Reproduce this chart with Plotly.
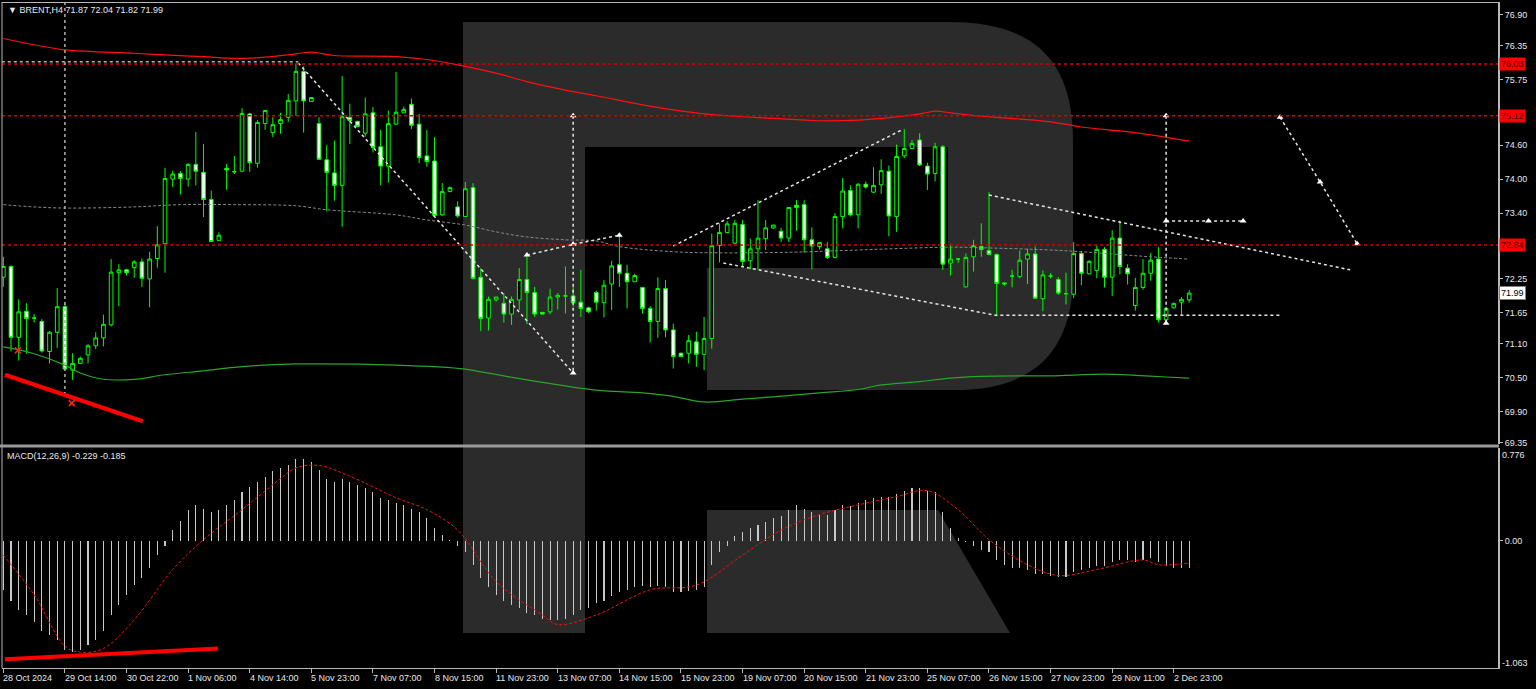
import plotly.graph_objects as go

# ---------------- DATA ----------------
opens = [72.27,72.46,71.21,71.67,71.55,71.49,70.96,71.30,71.75,70.63,70.75,70.90,71.06,71.20,71.43,72.35,72.40,72.44,72.54,72.24,
         72.60,72.86,74.00,74.10,74.00,74.26,74.12,73.64,72.92,74.19,74.13,74.14,75.15,74.28,74.98,74.82,74.98,75.09,75.38,75.90,
         75.37,74.98,74.34,74.11,73.89,75.09,75.02,74.81,75.17,74.57,74.23,74.97,75.17,75.32,74.97,74.41,74.32,73.37,73.78,73.51,
         73.34,73.85,72.27,71.55,71.87,71.81,71.62,71.87,72.23,72.00,71.65,71.66,71.92,71.94,71.94,71.83,71.73,72.00,71.82,72.15,
         72.49,72.34,72.19,72.09,71.72,71.49,72.07,71.34,70.93,70.93,71.13,70.91,71.19,72.83,73.06,72.87,73.20,72.56,72.77,72.95,
         73.14,73.08,72.96,73.54,73.55,72.93,72.81,72.77,72.62,73.34,73.80,73.37,73.91,73.77,73.90,74.14,73.34,74.41,74.54,74.69,
         74.23,74.10,74.57,72.52,72.59,72.10,72.63,72.81,72.74,72.67,72.17,72.29,72.28,72.59,72.68,71.89,72.29,72.23,71.98,71.97,
         72.69,72.33,72.39,72.76,72.27,72.96,72.43,71.77,72.09,72.34,72.59,71.52,71.73,71.83,71.87]
highs = [72.63,72.48,71.88,71.81,71.62,71.53,71.32,72.08,71.81,70.93,70.87,71.09,71.30,71.61,72.59,72.50,72.42,72.57,72.60,72.72,
         73.17,74.20,74.15,74.14,74.28,74.83,74.62,73.80,73.06,74.27,74.41,75.25,75.17,75.04,75.22,75.09,75.17,75.50,76.04,75.99,
         75.44,75.09,74.60,74.68,75.82,75.33,75.02,75.44,75.27,74.87,75.21,75.89,75.28,75.42,75.15,74.87,74.74,73.93,73.87,73.61,
         73.95,73.93,72.43,71.93,71.92,71.99,71.93,72.43,72.64,72.10,71.65,72.07,71.99,72.46,72.10,72.40,71.75,72.03,72.22,72.56,
         73.04,72.49,72.33,72.10,71.76,72.27,72.22,71.45,70.94,71.25,71.31,71.57,73.04,73.22,73.26,73.28,73.28,72.95,73.63,73.28,
         73.19,73.14,73.51,73.63,73.63,73.15,72.89,72.89,73.40,74.02,73.89,73.93,73.96,74.21,74.35,74.24,74.61,74.88,74.69,74.81,
         74.29,74.64,74.60,72.86,72.61,72.69,72.93,73.22,73.77,72.69,72.17,72.40,72.74,72.77,72.81,72.39,72.34,72.27,72.35,72.89,
         72.73,72.57,72.83,72.80,73.10,73.27,72.50,72.26,72.59,72.70,72.80,71.75,71.82,71.92,72.04]
lows = [72.10,70.96,70.80,70.92,71.47,70.94,70.75,71.02,70.63,70.46,70.74,70.75,71.00,71.05,71.40,71.76,72.30,72.26,72.10,71.74,
        72.44,72.35,73.86,73.73,73.87,73.89,73.33,72.89,72.91,73.81,74.09,74.13,74.13,74.20,74.87,74.74,74.80,75.01,75.12,74.82,
        75.37,74.34,73.43,73.62,73.16,74.62,74.93,74.75,74.47,73.89,73.94,74.96,75.17,74.88,74.28,74.22,73.35,73.35,73.77,73.32,
        73.34,72.23,71.32,71.33,71.84,71.47,71.43,71.69,71.44,71.57,71.61,71.62,71.70,71.63,71.75,71.57,71.64,71.68,71.56,71.69,
        72.10,71.72,72.19,71.63,71.12,71.20,71.21,70.66,70.86,70.75,70.69,70.63,71.01,72.53,73.04,72.86,72.46,72.41,72.41,72.75,
        73.12,72.89,72.89,73.09,72.70,72.41,72.76,72.59,72.60,73.13,73.34,73.13,73.83,73.75,73.74,72.99,73.07,74.37,74.54,74.23,
        73.81,73.96,72.40,72.30,72.52,72.09,72.37,72.63,72.66,71.60,72.12,72.09,72.25,72.15,71.89,71.67,72.25,71.96,71.79,71.90,
        72.13,72.32,72.25,72.09,71.94,72.32,72.14,71.68,72.05,72.21,71.47,71.49,71.72,71.59,71.82]
closes = [72.46,71.21,71.66,71.54,71.55,70.97,71.30,71.75,70.65,70.75,70.84,71.06,71.20,71.44,72.36,72.40,72.35,72.54,72.25,72.59,
          72.84,74.01,74.09,74.01,74.26,74.14,73.64,72.90,73.01,74.16,74.13,75.16,74.29,75.00,75.21,74.96,75.05,75.39,75.90,75.38,
          75.44,74.35,74.12,73.89,75.10,75.03,74.93,75.15,74.56,74.23,74.98,75.18,75.23,74.95,74.38,74.31,73.36,73.78,73.85,73.35,
          73.83,72.25,71.54,71.88,71.92,71.62,71.88,72.23,72.00,71.62,71.62,71.92,71.95,71.94,71.82,71.72,71.66,71.83,72.13,72.47,
          72.34,72.19,72.30,71.72,71.49,72.07,71.34,70.87,70.87,71.15,70.91,71.19,72.83,73.06,73.21,73.22,72.55,72.77,72.96,73.14,
          73.19,72.96,73.50,73.50,72.93,72.82,72.88,72.62,73.34,73.79,73.37,73.91,73.86,73.89,74.15,73.35,74.40,74.54,74.63,74.25,
          74.09,74.57,72.50,72.59,72.59,72.62,72.83,72.76,72.67,72.16,72.15,72.29,72.57,72.68,71.90,72.31,72.29,71.99,71.98,72.69,
          72.34,72.55,72.76,72.27,72.96,72.46,72.33,72.09,72.34,72.57,71.52,71.72,71.81,71.88,71.99]
bars = list(range(len(closes)))

macd_hist = [-0.41,-0.50,-0.58,-0.62,-0.68,-0.75,-0.79,-0.83,-0.91,-0.93,-0.91,-0.87,-0.83,-0.75,-0.62,-0.54,-0.45,-0.37,-0.31,-0.23,
             -0.12,-0.04,0.09,0.17,0.26,0.30,0.27,0.24,0.26,0.30,0.34,0.41,0.45,0.49,0.53,0.58,0.61,0.63,0.68,0.68,
             0.66,0.59,0.52,0.49,0.52,0.49,0.47,0.44,0.41,0.36,0.34,0.32,0.30,0.27,0.24,0.19,0.11,0.05,0.01,-0.04,
             -0.09,-0.20,-0.31,-0.39,-0.45,-0.50,-0.54,-0.56,-0.60,-0.62,-0.65,-0.66,-0.66,-0.65,-0.62,-0.58,-0.56,-0.52,-0.50,-0.46,
             -0.43,-0.41,-0.39,-0.38,-0.39,-0.38,-0.39,-0.43,-0.43,-0.42,-0.41,-0.39,-0.20,-0.09,-0.04,0.04,0.07,0.11,0.13,0.16,
             0.19,0.21,0.26,0.30,0.27,0.24,0.22,0.22,0.26,0.30,0.29,0.32,0.34,0.36,0.37,0.37,0.39,0.42,0.44,0.44,
             0.42,0.41,0.24,0.11,0.02,-0.01,-0.04,-0.08,-0.09,-0.16,-0.20,-0.23,-0.23,-0.24,-0.28,-0.28,-0.29,-0.30,-0.30,-0.26,
             -0.24,-0.23,-0.21,-0.21,-0.18,-0.16,-0.16,-0.18,-0.16,-0.14,-0.18,-0.21,-0.23,-0.23,-0.229]
signal_idx = [0,4,8,10,13,17,22,26,31,36,38,41,45,51,55,59,64,70,72,77,84,90,96,101,106,111,116,120,124,128,133,137,142,148,150,154]
signal_val = [-0.12,-0.45,-0.88,-0.93,-0.90,-0.66,-0.24,0.01,0.26,0.52,0.61,0.63,0.54,0.36,0.26,0.09,-0.34,-0.62,-0.70,-0.62,
              -0.41,-0.37,-0.12,0.09,0.22,0.30,0.37,0.42,0.26,0.01,-0.20,-0.29,-0.24,-0.16,-0.20,-0.185]

ma_red_idx = [0,4,8,17,21,26,30,34,38,40,43,51,55,60,64,68,73,77,83,87,91,96,100,106,111,114,119,121,123,127,132,136,140,145,149,154]
ma_red_val = [76.48,76.37,76.28,76.22,76.19,76.16,76.13,76.15,76.21,76.24,76.18,76.16,76.11,75.99,75.87,75.72,75.57,75.47,75.31,75.22,
              75.15,75.10,75.07,75.03,75.04,75.07,75.15,75.20,75.17,75.11,75.06,75.01,74.92,74.85,74.78,74.67]
ma_mid_idx = [0,4,8,17,23,30,38,42,51,55,60,64,68,73,77,80,87,93,102,111,115,123,127,136,140,145,149,154]
ma_mid_val = [73.55,73.51,73.49,73.51,73.55,73.55,73.53,73.46,73.37,73.28,73.19,73.07,72.98,72.93,72.91,72.81,72.72,72.70,72.71,72.75,
              72.77,72.80,72.79,72.75,72.72,72.67,72.63,72.59]
ma_green_idx = [0,4,8,10,13,17,21,26,30,34,38,51,60,62,68,77,83,87,91,96,100,106,111,114,119,123,127,132,136,143,147,151,154]
ma_green_val = [71.04,70.92,70.72,70.58,70.47,70.47,70.55,70.62,70.68,70.72,70.74,70.72,70.65,70.60,70.46,70.28,70.23,70.17,70.07,70.12,
                70.16,70.23,70.29,70.37,70.43,70.49,70.52,70.53,70.53,70.56,70.54,70.51,70.49]

x_label_idx = list(range(0, 153, 8))
x_labels = ["28 Oct 2024", "29 Oct 14:00", "30 Oct 22:00", "1 Nov 06:00", "4 Nov 14:00", "5 Nov 23:00", "7 Nov 07:00",
            "8 Nov 15:00", "11 Nov 23:00", "13 Nov 07:00", "14 Nov 15:00", "15 Nov 23:00", "19 Nov 07:00", "20 Nov 15:00",
            "21 Nov 23:00", "25 Nov 07:00", "26 Nov 15:00", "27 Nov 23:00", "29 Nov 11:00", "2 Dec 23:00"]
price_ticks = [76.90, 76.35, 75.75, 74.60, 74.00, 73.40, 72.25, 71.65, 71.10, 70.50, 69.90, 69.35]
level_lines = [76.03, 75.12, 72.84]
macd_max, macd_min = 0.776, -1.063
macd_last, signal_last = -0.229, -0.185

# analyst drawings (bar index, price)
drawings = [
    ([38.3, 74.0], [76.05, 70.58]),
    ([74.0, 74.0], [75.12, 70.58]),
    ([68.0, 74.0, 80.0], [72.66, 72.85, 73.01]),
    ([87.0, 116.7], [72.82, 74.87]),
    ([93.5, 128.8, 165.8], [72.52, 71.60, 71.60]),
    ([128.0, 174.9], [73.72, 72.40]),
    ([151.0, 151.0], [75.12, 71.46]),
    ([151.0, 161.0], [73.26, 73.26]),
    ([165.8, 171.0, 175.8], [75.09, 73.95, 72.86]),
]
marker_x = [74.0, 74.0, 74.0, 68.0, 80.0, 151.0, 151.0, 151.0, 156.5, 161.0, 165.8, 171.0, 175.8]
marker_y = [75.12, 70.58, 72.85, 72.66, 73.01, 75.12, 73.26, 71.46, 73.26, 73.26, 75.09, 73.95, 72.86]
red_trend_main = ([0.2, 18.1], [70.55, 69.73])
red_trend_macd = ([0.2, 27.9], [-0.99, -0.90])
red_x_marks = ([1.9, 8.9], [70.98, 70.05])

# ---------------- LAYOUT GEOMETRY ----------------
W, H = 1536, 689
ML, MR, MT, MB = 2, 38, 2, 21
PW, PH = W - ML - MR, H - MT - MB


def px(v):
    return (v - ML) / PW


def py(v):
    return 1 - (v - MT) / PH


FONT = "Liberation Sans"
TXT = "#e8e8e8"

fig = go.Figure()

# candles
fig.add_trace(go.Candlestick(
    x=bars, open=opens, high=highs, low=lows, close=closes,
    increasing=dict(line=dict(color="#00ff00", width=1), fillcolor="#000000"),
    decreasing=dict(line=dict(color="#00ff00", width=1), fillcolor="#ffffff"),
    whiskerwidth=0, hoverinfo="skip", showlegend=False))

fig.add_trace(go.Scatter(x=ma_red_idx, y=ma_red_val, mode="lines", line=dict(color="#ff1010", width=1.2, shape="spline"),
                         hoverinfo="skip", showlegend=False))
fig.add_trace(go.Scatter(x=ma_mid_idx, y=ma_mid_val, mode="lines",
                         line=dict(color="#8a8a8a", width=1, dash="3px,2px", shape="spline"),
                         hoverinfo="skip", showlegend=False))
fig.add_trace(go.Scatter(x=ma_green_idx, y=ma_green_val, mode="lines", line=dict(color="#2aa52a", width=1.2, shape="spline"),
                         hoverinfo="skip", showlegend=False))

# analyst drawings
for dx, dy in drawings:
    fig.add_trace(go.Scatter(x=dx, y=dy, mode="lines", line=dict(color="#e6e6e6", width=1.5, dash="3px,3px"),
                             hoverinfo="skip", showlegend=False))
fig.add_trace(go.Scatter(x=marker_x, y=marker_y, mode="markers",
                         marker=dict(symbol="triangle-up", size=6, color="#ffffff"),
                         hoverinfo="skip", showlegend=False))
fig.add_trace(go.Scatter(x=red_trend_main[0], y=red_trend_main[1], mode="lines", line=dict(color="#ff0000", width=4),
                         hoverinfo="skip", showlegend=False))
fig.add_trace(go.Scatter(x=red_x_marks[0], y=red_x_marks[1], mode="markers",
                         marker=dict(symbol="x-thin", size=6, line=dict(color="#ff2020", width=1.5)),
                         hoverinfo="skip", showlegend=False))

# MACD pane
fig.add_trace(go.Bar(x=bars, y=macd_hist, width=0.14, marker=dict(color="#c8c8c8", line=dict(width=0)),
                     yaxis="y2", hoverinfo="skip", showlegend=False))
fig.add_trace(go.Scatter(x=signal_idx, y=signal_val, mode="lines", yaxis="y2",
                         line=dict(color="#f01010", width=1, dash="3px,2px", shape="spline"),
                         hoverinfo="skip", showlegend=False))
fig.add_trace(go.Scatter(x=red_trend_macd[0], y=red_trend_macd[1], mode="lines", yaxis="y2",
                         line=dict(color="#ff0000", width=4), hoverinfo="skip", showlegend=False))

shapes = []
# watermark "R"
wm = [(463, 22), (950, 22), "C", (1035, 22), (1073, 62), (1073, 140), (1073, 275), "C", (1073, 345), (1040, 390),
      (955, 390), (707, 390), (707, 268), (948, 268), (948, 147), (585, 147), (585, 633), (463, 633)]
path = ""
i = 0
first = True
while i < len(wm):
    item = wm[i]
    if item == "C":
        a, b, c = wm[i + 1], wm[i + 2], wm[i + 3]
        path += f" C {px(a[0]):.5f},{py(a[1]):.5f} {px(b[0]):.5f},{py(b[1]):.5f} {px(c[0]):.5f},{py(c[1]):.5f}"
        i += 4
        continue
    path += (" M " if first else " L ") + f"{px(item[0]):.5f},{py(item[1]):.5f}"
    first = False
    i += 1
path += " Z"
shapes.append(dict(type="path", xref="paper", yref="paper", path=path, fillcolor="#2b2b2b", line=dict(width=0),
                   layer="below"))
leg = [(707, 510), (938, 510), (1010, 633), (707, 633)]
lp = " M " + " L ".join(f"{px(a):.5f},{py(b):.5f}" for a, b in leg) + " Z"
shapes.append(dict(type="path", xref="paper", yref="paper", path=lp, fillcolor="#2b2b2b", line=dict(width=0),
                   layer="below"))

# red horizontal levels
for lv in level_lines:
    shapes.append(dict(type="line", xref="paper", yref="y", x0=0, x1=1, y0=lv, y1=lv,
                       line=dict(color="#d00000", width=1.5, dash="3px,3px")))
# grey analyst lines
shapes.append(dict(type="line", xref="x", yref="y", x0=-0.2, x1=38.3, y0=76.07, y1=76.07,
                   line=dict(color="#b0b0b0", width=1.5, dash="3px,3px")))
shapes.append(dict(type="line", xref="x", yref="paper", x0=8, x1=8, y0=py(2), y1=py(393),
                   line=dict(color="#b0b0b0", width=1.5, dash="3px,3px")))
# frame
FR = "#b8b8b8"
shapes.append(dict(type="line", xref="paper", yref="paper", x0=px(2), x1=px(1498), y0=py(2.5), y1=py(2.5),
                   line=dict(color=FR, width=1)))
shapes.append(dict(type="line", xref="paper", yref="paper", x0=px(2), x1=px(2), y0=py(2), y1=py(668),
                   line=dict(color=FR, width=1)))
shapes.append(dict(type="rect", xref="paper", yref="paper", x0=px(0), x1=px(1499), y0=py(444.5), y1=py(447.5),
                   fillcolor="#9a9a9a", line=dict(width=0)))

annotations = []
hdr = f"▼ BRENT,H4 {opens[-1]:.2f} {highs[-1]:.2f} {lows[-1]:.2f} {closes[-1]:.2f}"
annotations.append(dict(x=px(6), y=py(10), xref="paper", yref="paper", text=hdr, showarrow=False,
                        xanchor="left", yanchor="middle", font=dict(family=FONT, size=9, color=TXT)))
annotations.append(dict(x=px(5), y=py(456), xref="paper", yref="paper",
                        text=f"MACD(12,26,9) {macd_last:.3f} {signal_last:.3f}", showarrow=False,
                        xanchor="left", yanchor="middle", font=dict(family=FONT, size=9, color=TXT)))
for xi, lab in zip(x_label_idx, x_labels):
    annotations.append(dict(x=xi, y=py(678), xref="x", yref="paper", text=lab, showarrow=False,
                            xanchor="left", yanchor="middle", xshift=-2,
                            font=dict(family=FONT, size=9, color=TXT)))
for lv in level_lines:
    annotations.append(dict(x=1, y=lv, xref="paper", yref="y", text=f"{lv:.2f}", showarrow=False,
                            xanchor="left", yanchor="middle", xshift=1, bgcolor="#ff0000", borderpad=1,
                            font=dict(family=FONT, size=9, color="#4a0000")))
annotations.append(dict(x=1, y=closes[-1], xref="paper", yref="y", text=f"{closes[-1]:.2f}", showarrow=False,
                        xanchor="left", yanchor="middle", xshift=1, bgcolor="#ffffff", bordercolor="#808080",
                        borderwidth=1, borderpad=1, font=dict(family=FONT, size=9, color="#000000")))
annotations.append(dict(x=1, y=py(455), xref="paper", yref="paper", text=f"{macd_max:.3f}", showarrow=False,
                        xanchor="left", yanchor="middle", xshift=2, font=dict(family=FONT, size=9, color=TXT)))
annotations.append(dict(x=1, y=py(663), xref="paper", yref="paper", text=f"{macd_min:.3f}", showarrow=False,
                        xanchor="left", yanchor="middle", xshift=2, font=dict(family=FONT, size=9, color=TXT)))

main_top = 76.90 + (14.7 - 2) / 56.7
main_bot = 76.90 - (444 - 14.7) / 56.7

fig.update_layout(
    width=W, height=H, margin=dict(l=ML, r=MR, t=MT, b=MB),
    paper_bgcolor="#000000", plot_bgcolor="#000000",
    showlegend=False, hovermode=False, boxgap=0.32, bargap=0,
    xaxis=dict(range=[-0.17, 194.1], anchor="y2", showgrid=False, zeroline=False,
               rangeslider=dict(visible=False), tickvals=x_label_idx, showticklabels=False,
               ticks="outside", ticklen=4, tickcolor=FR, showline=True, linecolor=FR, linewidth=1),
    yaxis=dict(domain=[1 - (444 - MT) / PH, 1], range=[main_bot, main_top], side="right", anchor="x",
               showgrid=False, zeroline=False, tickvals=price_ticks, ticktext=[f"{v:.2f}" for v in price_ticks],
               ticks="outside", ticklen=3, tickcolor=FR, showline=True, linecolor=FR, linewidth=2,
               tickfont=dict(family=FONT, size=9, color=TXT)),
    yaxis2=dict(domain=[0, (668 - 448) / PH], range=[macd_min, macd_max], side="right", anchor="x",
                showgrid=False, zeroline=False, tickvals=[0], ticktext=["0.00"],
                ticks="outside", ticklen=3, tickcolor=FR, showline=True, linecolor=FR, linewidth=2,
                tickfont=dict(family=FONT, size=9, color=TXT)),
    shapes=shapes, annotations=annotations,
)

fig.write_html("out.html", config={"displayModeBar": False, "staticPlot": True},
               post_script="document.body.style.margin='0';document.body.style.overflow='hidden';")
